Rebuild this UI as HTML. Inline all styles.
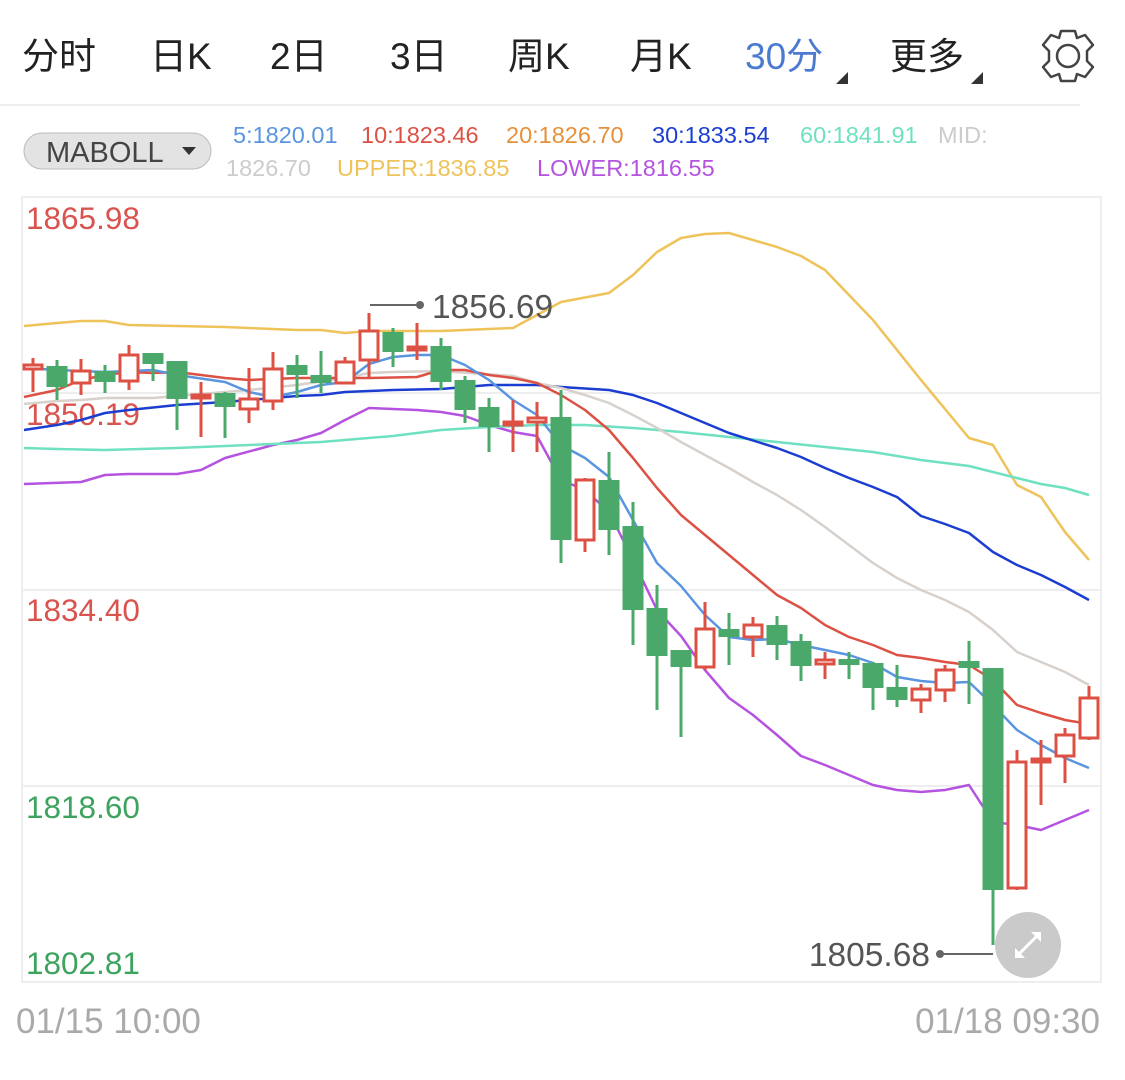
<!DOCTYPE html>
<html><head><meta charset="utf-8"><style>
body{margin:0;background:#fff;width:1125px;height:1075px;overflow:hidden;font-family:"Liberation Sans","Noto Sans CJK SC",sans-serif}
svg text{font-family:"Liberation Sans","Noto Sans CJK SC",sans-serif}
</style></head><body>
<svg width="1125" height="1075" viewBox="0 0 1125 1075" xmlns="http://www.w3.org/2000/svg">
<g font-size="37" fill="#222">
<text x="22" y="69">分时</text><text x="150" y="69">日K</text><text x="270" y="69">2日</text><text x="390" y="69">3日</text><text x="508" y="69">周K</text><text x="630" y="69">月K</text><text x="745" y="69" fill="#4a7bd0">30分</text><text x="890" y="69">更多</text>
</g>
<polygon points="848,72 848,84 836,84" fill="#333"/><polygon points="983,72 983,84 971,84" fill="#333"/>
<g transform="translate(1068,56)" fill="none" stroke="#444" stroke-width="2.5">
<circle r="11"/>
<path d="M-7,-25 L7,-25 L9,-18 L17,-21 L25,-11 L19,-5 L19,5 L25,11 L17,21 L9,18 L7,25 L-7,25 L-9,18 L-17,21 L-25,11 L-19,5 L-19,-5 L-25,-11 L-17,-21 L-9,-18 Z" stroke-linejoin="round"/>
</g>
<line x1="0" y1="105" x2="1080" y2="105" stroke="#eee" stroke-width="2"/>
<rect x="24" y="133" width="187" height="36" rx="18" fill="#e3e3e3" stroke="#bbb"/>
<text x="46" y="162" font-size="29" fill="#444">MABOLL</text>
<polygon points="182,147 196,147 189,155" fill="#333"/>
<g font-size="23.5">
<text x="233" y="143" fill="#5a95e0">5:1820.01</text>
<text x="361" y="143" fill="#dd5145">10:1823.46</text>
<text x="506" y="143" fill="#e6903a">20:1826.70</text>
<text x="652" y="143" fill="#1b3ed0">30:1833.54</text>
<text x="800" y="143" fill="#6fe0c0">60:1841.91</text>
<text x="938" y="143" fill="#ccc">MID:</text>
<text x="226" y="176" fill="#ccc">1826.70</text>
<text x="337" y="176" fill="#eec35a">UPPER:1836.85</text>
<text x="537" y="176" fill="#b553e0">LOWER:1816.55</text>
</g>
<rect x="22" y="197" width="1079" height="785" fill="none" stroke="#eee" stroke-width="2"/>
<g stroke="#eee" stroke-width="2"><line x1="22" y1="393" x2="1101" y2="393"/><line x1="22" y1="590" x2="1101" y2="590"/><line x1="22" y1="786" x2="1101" y2="786"/></g>
<g font-size="31.5">
<text x="26" y="229" fill="#d9534f">1865.98</text>
<text x="26" y="425" fill="#d9534f">1850.19</text>
<text x="26" y="621" fill="#d9534f">1834.40</text>
<text x="26" y="818" fill="#3ea35e">1818.60</text>
<text x="26" y="974" fill="#3ea35e">1802.81</text>
</g>
<g fill="none" stroke-width="2.5" stroke-linejoin="round">
<polyline stroke="#eec35a" points="24,326 57,323 81,321 105,321 129,325 177,326 225,327 297,330 321,330 345,333 369,331 393,331 441,331 513,328 561,302 609,293 633,275 657,252 681,238 705,234 729,233 777,247 801,256 825,270 873,320 921,380 969,438 993,445 1017,485 1041,497 1065,532 1089,560"/>
<polyline stroke="#b553e0" points="24,484 81,482 105,475 129,474 177,474 201,470 225,458 273,445 297,440 321,433 345,420 369,408 417,410 441,412 465,416 489,425 513,432 537,436 561,480 585,490 609,512 633,560 657,610 681,636 705,670 729,698 753,715 777,735 801,756 825,765 849,775 873,785 897,790 921,792 945,790 969,785 993,822 1017,825 1041,830 1065,820 1089,810"/>
<polyline stroke="#6fe0c0" points="24,448 57,449 105,450 177,448 249,445 321,442 393,436 441,430 489,427 537,425 585,425 633,428 681,432 729,437 777,442 825,447 873,452 921,460 969,466 1017,478 1041,484 1065,488 1089,495"/>
<polyline stroke="#1b3ed0" points="24,430 57,425 81,420 105,413 129,410 177,405 225,402 249,400 297,396 321,395 345,392 369,391 393,390 441,389 465,387 489,385 537,385 561,387 609,390 633,395 657,403 681,413 705,423 729,433 777,448 801,457 825,468 849,478 873,487 897,497 921,516 945,524 969,533 993,552 1017,565 1041,575 1065,587 1089,600"/>
<polyline stroke="#d7d0cb" points="24,404 57,401 81,400 105,398 153,398 249,390 297,385 345,378 369,373 393,372 441,371 513,376 537,383 561,388 585,395 609,403 633,415 657,428 681,442 705,455 729,468 753,482 777,495 801,510 825,527 849,545 873,563 897,578 921,590 945,600 969,612 993,630 1017,652 1041,662 1065,672 1089,685"/>
<polyline stroke="#dd5145" points="24,397 57,390 81,380 105,375 129,372 153,373 177,372 225,378 249,380 297,378 345,378 369,378 417,377 441,370 465,370 489,375 513,378 537,383 561,395 585,410 609,430 633,458 657,488 681,515 705,535 729,555 753,575 777,595 801,608 825,625 849,637 873,645 897,655 921,658 945,662 969,665 993,680 1017,705 1041,713 1065,720 1089,724"/>
<polyline stroke="#5a95e0" points="24,368 57,370 105,372 153,370 177,375 225,382 249,392 273,397 297,392 321,385 345,382 369,364 393,357 417,355 441,355 465,365 489,380 513,400 537,415 561,445 585,458 609,477 633,520 657,563 681,586 705,615 729,637 753,640 777,639 801,645 825,650 849,655 873,663 897,677 921,681 945,683 969,682 993,705 1017,730 1041,745 1065,758 1089,768"/>
</g>
<g id="c"></g>
<line x1="370" y1="305" x2="420" y2="305" stroke="#666" stroke-width="2"/><circle cx="420" cy="305" r="4" fill="#666"/>
<text x="432" y="318" font-size="33.5" fill="#555">1856.69</text>
<line x1="940" y1="954" x2="993" y2="954" stroke="#666" stroke-width="2"/><circle cx="940" cy="954" r="4" fill="#666"/>
<text x="930" y="966" font-size="33.5" fill="#555" text-anchor="end">1805.68</text>
<circle cx="1028" cy="945" r="33" fill="#c4c4c4" opacity="0.9"/>
<g stroke="#fff" stroke-width="3"><line x1="1017" y1="956" x2="1039" y2="934"/></g>
<polygon points="1041,932 1041,942 1031,932" fill="#fff"/><polygon points="1015,958 1015,948 1025,958" fill="#fff"/>
<text x="16" y="1033" font-size="35" fill="#aaa">01/15 10:00</text>
<text x="1100" y="1033" font-size="35" fill="#aaa" text-anchor="end">01/18 09:30</text>
</svg>
<script>
var d=[[358,392,365,369,'r'],[360,400,366,387,'g'],[359,395,371,383,'r'],[365,393,371,382,'g'],[345,390,355,381,'r'],[353,381,353,364,'g'],[361,430,361,399,'g'],[382,437,395,398,'r'],[392,438,393,407,'g'],[368,423,399,409,'r'],[352,410,369,401,'r'],[355,398,365,375,'g'],[351,393,375,383,'g'],[357,383,362,383,'r'],[313,378,331,360,'r'],[328,367,332,352,'g'],[323,360,347,350,'r'],[338,390,346,382,'g'],[376,423,380,410,'g'],[398,452,407,427,'g'],[400,452,422,425,'r'],[402,452,418,422,'r'],[390,563,417,540,'g'],[478,552,480,540,'r'],[452,555,480,530,'g'],[502,645,526,610,'g'],[585,710,608,656,'g'],[650,737,650,667,'g'],[602,670,629,667,'r'],[613,665,629,637,'g'],[617,657,625,637,'r'],[616,660,625,645,'g'],[634,681,641,666,'g'],[652,679,660,664,'r'],[652,679,659,665,'g'],[662,710,663,688,'g'],[665,707,687,700,'g'],[684,713,689,700,'r'],[665,702,670,690,'r'],[641,704,661,668,'g'],[668,945,668,890,'g'],[750,890,762,888,'r'],[740,805,759,762,'r'],[728,783,735,756,'r'],[686,740,698,738,'r']];
var s='';d.forEach(function(c,i){var x=33+24*i,col=c[4]=='r'?'#dd5145':'#4aa96a';
s+='<line x1="'+x+'" y1="'+c[0]+'" x2="'+x+'" y2="'+c[1]+'" stroke="'+col+'" stroke-width="3"/>';
var h=Math.max(c[3]-c[2],3);
if(c[4]=='r')s+='<rect x="'+(x-9)+'" y="'+c[2]+'" width="18" height="'+h+'" fill="#fff" stroke="'+col+'" stroke-width="3"/>';
else s+='<rect x="'+(x-10.5)+'" y="'+c[2]+'" width="21" height="'+h+'" fill="'+col+'"/>';});
document.getElementById('c').innerHTML=s;
</script>
</body></html>
